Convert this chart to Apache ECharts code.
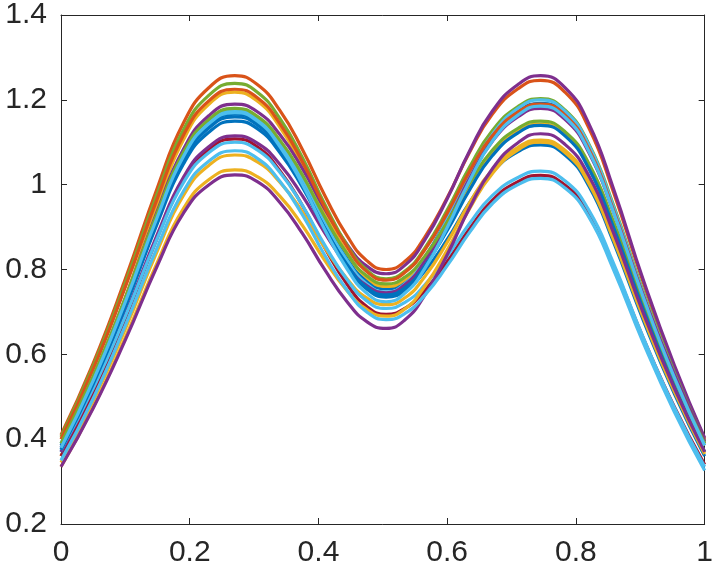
<!DOCTYPE html>
<html>
<head>
<meta charset="utf-8">
<script src="https://cdn.jsdelivr.net/npm/echarts@6/dist/echarts.min.js"></script>
<style>html,body{margin:0;padding:0;background:#fff}#c{width:716px;height:573px}</style>
</head>
<body>
<div id="c"></div>
<script>
var xs = [0,0.05,0.10,0.15,0.19,0.23,0.27,0.305,0.34,0.375,0.41,0.445,0.475,0.505,0.535,0.565,0.60,0.635,0.67,0.71,0.745,0.783,0.82,0.858,0.905,0.953,1.0];
var xTicks = [0,0.2,0.4,0.6,0.8,1];
var yTicks = [0.2,0.4,0.6,0.8,1,1.2,1.4];

var orangeA = [0.41,0.579,0.778,0.994,1.145,1.229,1.257,1.236,1.175,1.083,0.974,0.878,0.821,0.8,0.82,0.876,0.969,1.077,1.166,1.226,1.246,1.218,1.134,0.984,0.768,0.569,0.4];
var orangeB = [0.4,0.565,0.759,0.969,1.116,1.198,1.225,1.205,1.144,1.054,0.946,0.852,0.795,0.775,0.794,0.846,0.933,1.032,1.115,1.171,1.19,1.164,1.084,0.942,0.738,0.55,0.39];
var greenA  = [0.405,0.572,0.768,0.98,1.129,1.211,1.239,1.218,1.156,1.064,0.953,0.856,0.799,0.778,0.797,0.85,0.94,1.042,1.127,1.184,1.203,1.176,1.096,0.953,0.746,0.557,0.395];
var greenB  = [0.39,0.548,0.734,0.935,1.076,1.154,1.18,1.161,1.105,1.023,0.923,0.836,0.785,0.766,0.783,0.831,0.912,1.004,1.081,1.133,1.15,1.125,1.05,0.914,0.721,0.542,0.39];
var purpleA = [0.38,0.542,0.732,0.939,1.083,1.163,1.19,1.172,1.118,1.038,0.942,0.858,0.808,0.79,0.811,0.869,0.967,1.08,1.173,1.236,1.257,1.229,1.144,0.992,0.774,0.574,0.403];
var purpleB = [0.37,0.519,0.694,0.884,1.017,1.09,1.115,1.098,1.048,0.974,0.886,0.808,0.762,0.745,0.765,0.819,0.91,1.015,1.102,1.16,1.18,1.154,1.076,0.937,0.736,0.552,0.395];
var purpleC = [0.335,0.473,0.634,0.81,0.932,1.0,1.023,1.007,0.958,0.885,0.799,0.723,0.677,0.661,0.682,0.739,0.835,0.946,1.037,1.099,1.12,1.095,1.021,0.888,0.696,0.52,0.37];
var yellowA = [0.36,0.532,0.733,0.952,1.105,1.19,1.218,1.197,1.136,1.044,0.934,0.838,0.781,0.76,0.777,0.825,0.906,0.997,1.074,1.126,1.143,1.118,1.043,0.908,0.715,0.537,0.385];
var yellowB = [0.345,0.49,0.66,0.845,0.974,1.046,1.07,1.054,1.006,0.936,0.851,0.777,0.733,0.717,0.734,0.783,0.864,0.958,1.035,1.088,1.105,1.081,1.008,0.877,0.69,0.517,0.37];
var yellowC = [0.335,0.475,0.64,0.818,0.943,1.012,1.035,1.019,0.973,0.904,0.821,0.749,0.706,0.69,0.708,0.76,0.846,0.944,1.026,1.082,1.1,1.076,1.003,0.872,0.685,0.512,0.365];
var lblueA  = [0.39,0.547,0.731,0.932,1.071,1.149,1.175,1.156,1.098,1.012,0.91,0.82,0.766,0.747,0.767,0.824,0.919,1.028,1.118,1.18,1.2,1.173,1.093,0.949,0.742,0.552,0.39];
var lblueB  = [0.375,0.52,0.69,0.875,1.004,1.076,1.1,1.082,1.029,0.951,0.857,0.775,0.726,0.708,0.723,0.763,0.831,0.909,0.974,1.017,1.032,1.009,0.94,0.816,0.638,0.474,0.335];
var lblueC  = [0.35,0.496,0.668,0.854,0.984,1.056,1.08,1.062,1.008,0.929,0.833,0.75,0.7,0.682,0.697,0.739,0.809,0.888,0.955,1.0,1.015,0.992,0.924,0.801,0.626,0.464,0.326];
var lblueD  = [0.38,0.538,0.724,0.925,1.066,1.144,1.17,1.15,1.09,1.001,0.893,0.8,0.744,0.724,0.745,0.802,0.899,1.01,1.102,1.164,1.185,1.159,1.079,0.937,0.733,0.545,0.385];
var blueA   = [0.385,0.541,0.725,0.924,1.063,1.14,1.166,1.147,1.092,1.009,0.911,0.824,0.773,0.754,0.774,0.828,0.92,1.026,1.113,1.172,1.192,1.166,1.086,0.943,0.739,0.55,0.39];
var blueB   = [0.37,0.528,0.714,0.915,1.056,1.134,1.16,1.141,1.084,0.999,0.897,0.807,0.754,0.735,0.751,0.796,0.871,0.958,1.029,1.078,1.094,1.07,0.997,0.866,0.679,0.507,0.36];
var blueC   = [0.375,0.53,0.712,0.91,1.048,1.124,1.15,1.132,1.076,0.994,0.896,0.81,0.758,0.74,0.758,0.808,0.892,0.988,1.068,1.122,1.14,1.115,1.038,0.901,0.705,0.524,0.37];
var redA    = [0.36,0.51,0.685,0.876,1.009,1.083,1.108,1.089,1.033,0.951,0.851,0.764,0.713,0.694,0.709,0.75,0.819,0.897,0.963,1.007,1.022,0.999,0.932,0.811,0.637,0.476,0.34];

var C = {blue:'#0072BD', orange:'#D95319', yellow:'#EDB120', purple:'#7E2F8E', green:'#77AC30', lblue:'#4DBEEE', red:'#A2142F'};

var curves = [
  [blueA,C.blue],[orangeA,C.orange],[yellowA,C.yellow],[purpleA,C.purple],[greenA,C.green],[lblueA,C.lblue],[redA,C.red],
  [blueB,C.blue],[orangeB,C.orange],[yellowB,C.yellow],[purpleB,C.purple],[greenB,C.green],[lblueB,C.lblue],
  [blueC,C.blue],[yellowC,C.yellow],[purpleC,C.purple],[lblueC,C.lblue],[lblueD,C.lblue]
];

var series = curves.map(function(c){
  return {
    type:'line', smooth:0.5, symbol:'none', xAxisIndex:0, yAxisIndex:0,
    lineStyle:{width:3.2, color:c[1]}, itemStyle:{color:c[1]},
    data: xs.map(function(x,i){return [x,c[0][i]];})
  };
});

var axColor = '#262626';
var labelFont = {color:axColor, fontSize:30, fontFamily:'Liberation Sans, Arial, sans-serif'};
function ax(extra){
  var base = {
    type:'value', axisLine:{show:true, onZero:false, lineStyle:{color:axColor,width:1}},
    axisTick:{show:true, inside:true, length:6, lineStyle:{color:axColor,width:1}},
    splitLine:{show:false}
  };
  for (var k in extra) base[k]=extra[k];
  return base;
}

var chart = echarts.init(document.getElementById('c'), null, {renderer:'canvas'});
chart.setOption({
  animation:false,
  backgroundColor:'#fff',
  grid:{left:61, right:5, top:11, bottom:49, containLabel:false},
  xAxis:[
    ax({position:'bottom', min:xTicks[0], max:xTicks[xTicks.length-1], interval:0.2,
        axisLabel:Object.assign({margin:14}, labelFont)}),
    ax({position:'top', min:xTicks[0], max:xTicks[xTicks.length-1], interval:0.2, axisLabel:{show:false}})
  ],
  yAxis:[
    ax({position:'left', min:yTicks[0], max:yTicks[yTicks.length-1], interval:0.2,
        axisLabel:Object.assign({margin:14}, labelFont)}),
    ax({position:'right', min:yTicks[0], max:yTicks[yTicks.length-1], interval:0.2, axisLabel:{show:false}})
  ],
  series: series
});
</script>
</body>
</html>
